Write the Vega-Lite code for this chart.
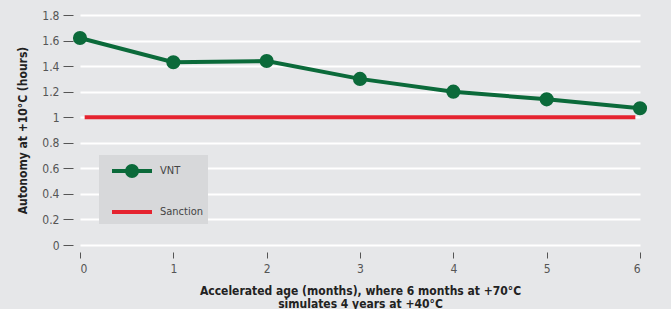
{
  "$schema": "https://vega.github.io/schema/vega-lite/v6.json",
  "width": 560,
  "height": 230,
  "autosize": {"type": "none"},
  "padding": {"left": 80, "top": 15, "right": 31, "bottom": 64},
  "background": "#e6e7e9",
  "config": {
    "view": {"stroke": null},
    "font": "DejaVu Sans Condensed",
    "axis": {"labelColor": "#555555", "labelFontSize": 12, "titleColor": "#222222", "titleFontSize": 12, "titleFontWeight": "bold", "tickColor": "#555555", "domain": false}
  },
  "data": {
    "values": [
      {"month": 0, "value": 1.62, "series": "VNT"},
      {"month": 1, "value": 1.43, "series": "VNT"},
      {"month": 2, "value": 1.44, "series": "VNT"},
      {"month": 3, "value": 1.30, "series": "VNT"},
      {"month": 4, "value": 1.20, "series": "VNT"},
      {"month": 5, "value": 1.14, "series": "VNT"},
      {"month": 6, "value": 1.07, "series": "VNT"},
      {"month": 0.05, "value": 1.0, "series": "Sanction"},
      {"month": 5.95, "value": 1.0, "series": "Sanction"}
    ]
  },
  "encoding": {
    "x": {
      "field": "month", "type": "quantitative",
      "scale": {"domain": [0, 6], "nice": false, "zero": false},
      "axis": {"values": [0, 1, 2, 3, 4, 5, 6], "grid": false, "offset": 7, "tickSize": 6, "labelPadding": 5, "titlePadding": 11,
        "title": ["Accelerated age (months), where 6 months at +70°C", "simulates 4 years at +40°C"], "titleLineHeight": 13}
    },
    "y": {
      "field": "value", "type": "quantitative",
      "scale": {"domain": [0, 1.8], "nice": false},
      "axis": {"values": [0, 0.2, 0.4, 0.6, 0.8, 1, 1.2, 1.4, 1.6, 1.8], "format": ".2~f", "offset": 7, "tickSize": 10, "labelPadding": 4,
        "grid": true, "gridColor": "#ffffff", "gridWidth": 2, "gridOpacity": 1, "titlePadding": 12,
        "title": "Autonomy at +10°C (hours)"}
    },
    "color": {
      "field": "series", "type": "nominal",
      "scale": {"domain": ["VNT", "Sanction"], "range": ["#0b6a3a", "#e5232f"]},
      "legend": {
        "title": null, "orient": "none", "legendX": 19, "legendY": 140,
        "fillColor": "#d7d8da", "padding": 4, "symbolSize": 400, "rowPadding": 16,
        "symbolOffset": 17, "labelOffset": 16, "labelFontSize": 11, "labelColor": "#444444", "labelFont": "DejaVu Sans Condensed",
        "labelExpr": "datum.label + '\u00a0\u00a0\u00a0'",
        "symbolStrokeWidth": 4,
        "encode": {
          "symbols": {
            "update": {
              "shape": {"signal": "datum.value === 'VNT' ? 'M-2,0L2,0M-0.5,0A0.5,0.5 0 1,0 0.5,0A0.5,0.5 0 1,0 -0.5,0Z' : 'M-2,0L2,0'"},
              "fill": {"signal": "datum.value === 'VNT' ? '#0b6a3a' : 'transparent'"},
              "stroke": {"signal": "datum.value === 'VNT' ? '#0b6a3a' : '#e5232f'"},
              "strokeWidth": {"value": 4},
              "opacity": {"value": 1},
              "fillOpacity": {"value": 1}
            }
          }
        }
      }
    }
  },
  "layer": [
    {"mark": {"type": "line", "strokeWidth": 4}, "encoding": {"detail": {"field": "series"}}},
    {"transform": [{"filter": "datum.series === 'VNT'"}], "mark": {"type": "point", "filled": true, "size": 200, "opacity": 1}}
  ]
}
